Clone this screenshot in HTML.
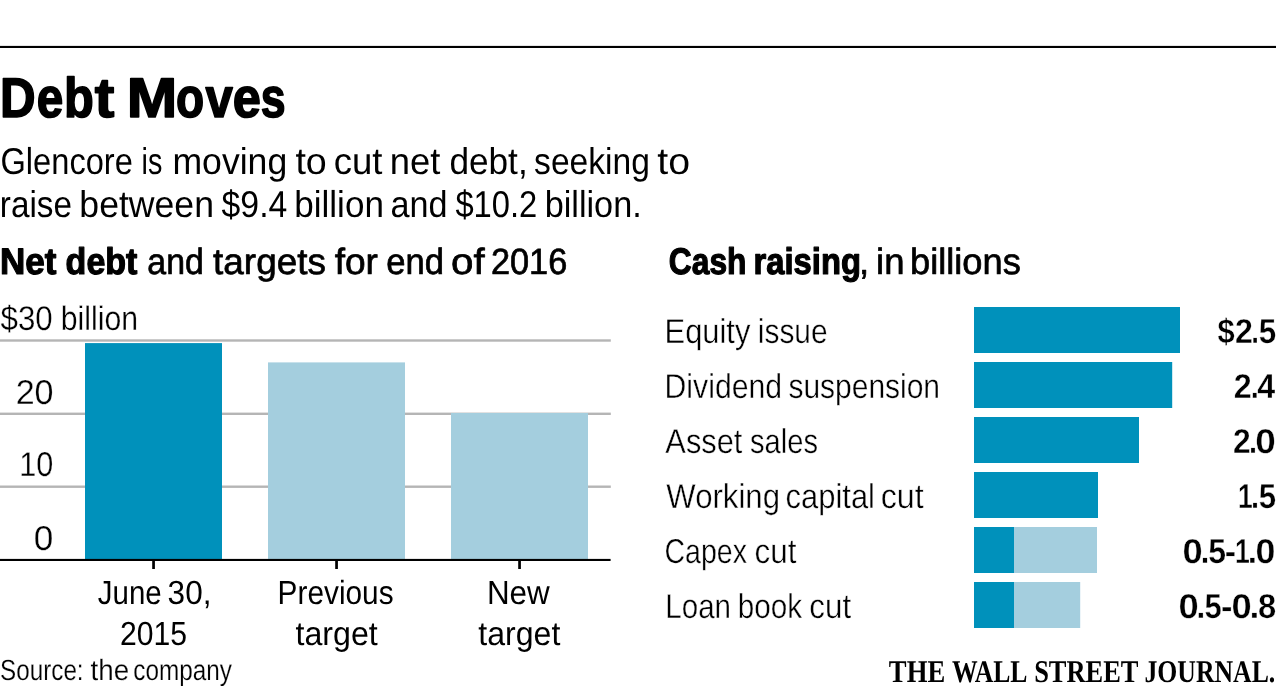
<!DOCTYPE html>
<html><head><meta charset="utf-8"><title>Debt Moves</title><style>
html,body{margin:0;padding:0;background:#fff;overflow:hidden;}
svg{display:block;will-change:transform;}
text{fill:#000;text-rendering:geometricPrecision;font-family:"Liberation Sans", sans-serif;font-weight:400;}
.b{font-weight:700;}
text[stroke-width]{stroke:#000;stroke-linejoin:round;}
text.w{stroke:#fff;}
.s{font-family:"Liberation Serif", serif;font-weight:700;}
</style></head><body>
<svg width="1280" height="692" viewBox="0 0 1280 692">
<rect width="1280" height="692" fill="#fff"/>
<rect x="0" y="45.9" width="1276" height="2.1" fill="#000"/>
<rect x="0" y="339.3" width="610.8" height="2.4" fill="#b5b5b5"/>
<rect x="0" y="412.6" width="610.8" height="2.4" fill="#b5b5b5"/>
<rect x="0" y="485.5" width="610.8" height="2.4" fill="#b5b5b5"/>
<rect x="85" y="343.1" width="137" height="216.4" fill="#0091bb"/>
<rect x="268" y="362.4" width="137" height="197.1" fill="#a4cede"/>
<rect x="451" y="413" width="137" height="146.5" fill="#a4cede"/>
<rect x="0" y="558.9" width="610.6" height="2.1" fill="#000"/>
<rect x="152.2" y="559" width="2.7" height="10" fill="#000"/>
<rect x="335.2" y="559" width="2.7" height="10" fill="#000"/>
<rect x="518.2" y="559" width="2.7" height="10" fill="#000"/>
<rect x="974" y="307" width="206" height="46" fill="#0091bb"/>
<rect x="974" y="362" width="198.2" height="46" fill="#0091bb"/>
<rect x="974" y="417" width="165" height="46" fill="#0091bb"/>
<rect x="974" y="472" width="124" height="46" fill="#0091bb"/>
<rect x="974" y="527" width="40" height="46" fill="#0091bb"/>
<rect x="1014" y="527" width="83" height="46" fill="#a4cede"/>
<rect x="974" y="582" width="40" height="46" fill="#0091bb"/>
<rect x="1014" y="582" width="66.2" height="46" fill="#a4cede"/>
<text class="b" stroke-width="1.6" x="-0.00" y="117.00" font-size="55.90" textLength="35.60" lengthAdjust="spacingAndGlyphs">D</text>
<text class="b" stroke-width="1.6" x="36.72" y="117.00" font-size="55.90" textLength="26.54" lengthAdjust="spacingAndGlyphs">e</text>
<text class="b" stroke-width="1.6" x="63.92" y="117.00" font-size="55.90" textLength="29.80" lengthAdjust="spacingAndGlyphs">b</text>
<text class="b" stroke-width="1.6" x="94.80" y="117.00" font-size="55.90" textLength="19.58" lengthAdjust="spacingAndGlyphs">t</text>
<text class="b" stroke-width="1.6" x="126.75" y="117.00" font-size="55.90" textLength="50.54" lengthAdjust="spacingAndGlyphs">M</text>
<text class="b" stroke-width="1.6" x="176.10" y="117.00" font-size="55.90" textLength="28.13" lengthAdjust="spacingAndGlyphs">o</text>
<text class="b" stroke-width="1.6" x="205.44" y="117.00" font-size="55.90" textLength="27.37" lengthAdjust="spacingAndGlyphs">v</text>
<text class="b" stroke-width="1.6" x="232.70" y="117.00" font-size="55.90" textLength="28.14" lengthAdjust="spacingAndGlyphs">e</text>
<text class="b" stroke-width="1.6" x="260.63" y="117.00" font-size="55.90" textLength="24.85" lengthAdjust="spacingAndGlyphs">s</text>
<text x="0.51" y="174.00" font-size="37.40" textLength="132.36" lengthAdjust="spacingAndGlyphs">Glencore</text>
<text x="141.58" y="174.00" font-size="37.40" textLength="20.78" lengthAdjust="spacingAndGlyphs">is</text>
<text x="172.48" y="174.00" font-size="37.40" textLength="114.72" lengthAdjust="spacingAndGlyphs">moving</text>
<text x="295.41" y="174.00" font-size="37.40" textLength="31.37" lengthAdjust="spacingAndGlyphs">to</text>
<text x="333.80" y="174.00" font-size="37.40" textLength="48.71" lengthAdjust="spacingAndGlyphs">cut</text>
<text x="389.67" y="174.00" font-size="37.40" textLength="50.63" lengthAdjust="spacingAndGlyphs">net</text>
<text x="449.42" y="174.00" font-size="37.40" textLength="78.26" lengthAdjust="spacingAndGlyphs">debt,</text>
<text x="534.08" y="174.00" font-size="37.40" textLength="115.82" lengthAdjust="spacingAndGlyphs">seeking</text>
<text x="657.24" y="174.00" font-size="37.40" textLength="32.73" lengthAdjust="spacingAndGlyphs">to</text>
<text x="-0.15" y="217.00" font-size="37.40" textLength="72.11" lengthAdjust="spacingAndGlyphs">raise</text>
<text x="79.34" y="217.00" font-size="37.40" textLength="134.63" lengthAdjust="spacingAndGlyphs">between</text>
<text x="221.62" y="217.00" font-size="37.40" textLength="65.66" lengthAdjust="spacingAndGlyphs">$9.4</text>
<text x="294.27" y="217.00" font-size="37.40" textLength="89.61" lengthAdjust="spacingAndGlyphs">billion</text>
<text x="390.60" y="217.00" font-size="37.40" textLength="57.05" lengthAdjust="spacingAndGlyphs">and</text>
<text x="455.40" y="217.00" font-size="37.40" textLength="81.92" lengthAdjust="spacingAndGlyphs">$10.2</text>
<text x="544.64" y="217.00" font-size="37.40" textLength="97.08" lengthAdjust="spacingAndGlyphs">billion.</text>
<text class="b" stroke-width="1.2" x="-0.09" y="274.00" font-size="37.10" textLength="56.41" lengthAdjust="spacingAndGlyphs">Net</text>
<text class="b" stroke-width="1.2" x="65.62" y="274.00" font-size="37.10" textLength="71.82" lengthAdjust="spacingAndGlyphs">debt</text>
<text stroke-width="0.7" x="147.32" y="274.00" font-size="36.50" textLength="56.52" lengthAdjust="spacingAndGlyphs">and</text>
<text stroke-width="0.7" x="213.11" y="274.00" font-size="36.50" textLength="112.74" lengthAdjust="spacingAndGlyphs">targets</text>
<text stroke-width="0.7" x="334.68" y="274.00" font-size="36.50" textLength="43.29" lengthAdjust="spacingAndGlyphs">for</text>
<text stroke-width="0.7" x="386.31" y="274.00" font-size="36.50" textLength="57.80" lengthAdjust="spacingAndGlyphs">end</text>
<text stroke-width="0.7" x="451.03" y="274.00" font-size="36.50" textLength="33.61" lengthAdjust="spacingAndGlyphs">of</text>
<text stroke-width="0.7" x="490.91" y="274.00" font-size="36.50" textLength="76.40" lengthAdjust="spacingAndGlyphs">2016</text>
<text class="b" stroke-width="1.2" x="668.85" y="274.00" font-size="37.10" textLength="77.59" lengthAdjust="spacingAndGlyphs">Cash</text>
<text class="b" stroke-width="1.2" x="753.59" y="274.00" font-size="37.10" textLength="107.32" lengthAdjust="spacingAndGlyphs">raising</text>
<text stroke-width="0.7" x="858.98" y="274.00" font-size="36.50">,</text>
<text stroke-width="0.7" x="876.14" y="274.00" font-size="36.50" textLength="28.46" lengthAdjust="spacingAndGlyphs">in</text>
<text stroke-width="0.7" x="909.99" y="274.00" font-size="36.50" textLength="110.77" lengthAdjust="spacingAndGlyphs">billions</text>
<text class="w" stroke-width="0.3" x="0.54" y="330.00" font-size="34.20" textLength="52.19" lengthAdjust="spacingAndGlyphs">$30</text>
<text class="w" stroke-width="0.3" x="60.75" y="330.00" font-size="34.20" textLength="77.27" lengthAdjust="spacingAndGlyphs">billion</text>
<text class="w" stroke-width="0.3" x="15.66" y="404.00" font-size="34.50" textLength="37.91" lengthAdjust="spacingAndGlyphs">20</text>
<text class="w" stroke-width="0.3" x="19.16" y="476.00" font-size="34.50" textLength="34.06" lengthAdjust="spacingAndGlyphs">10</text>
<text class="w" stroke-width="0.3" x="33.70" y="550.00" font-size="34.50" textLength="19.57" lengthAdjust="spacingAndGlyphs">0</text>
<text x="97.80" y="604.00" font-size="33.40" textLength="63.82" lengthAdjust="spacingAndGlyphs">June</text>
<text x="167.62" y="604.00" font-size="33.40" textLength="43.86" lengthAdjust="spacingAndGlyphs">30,</text>
<text x="119.91" y="645.00" font-size="33.40" textLength="67.03" lengthAdjust="spacingAndGlyphs">2015</text>
<text x="277.62" y="604.00" font-size="33.40" textLength="115.97" lengthAdjust="spacingAndGlyphs">Previous</text>
<text x="295.51" y="645.00" font-size="33.40" textLength="82.23" lengthAdjust="spacingAndGlyphs">target</text>
<text x="486.93" y="604.00" font-size="33.40" textLength="62.84" lengthAdjust="spacingAndGlyphs">New</text>
<text x="478.37" y="645.00" font-size="33.40" textLength="81.93" lengthAdjust="spacingAndGlyphs">target</text>
<text class="w" stroke-width="0.2" x="0.11" y="680.00" font-size="29.20" textLength="83.48" lengthAdjust="spacingAndGlyphs">Source:</text>
<text class="w" stroke-width="0.2" x="90.53" y="680.00" font-size="29.20" textLength="38.68" lengthAdjust="spacingAndGlyphs">the</text>
<text class="w" stroke-width="0.2" x="133.36" y="680.00" font-size="29.20" textLength="98.66" lengthAdjust="spacingAndGlyphs">company</text>
<text class="w" stroke-width="0.4" x="664.57" y="343.00" font-size="34.50" textLength="85.78" lengthAdjust="spacingAndGlyphs">Equity</text>
<text class="w" stroke-width="0.4" x="757.84" y="343.00" font-size="34.50" textLength="69.77" lengthAdjust="spacingAndGlyphs">issue</text>
<text class="w" stroke-width="0.4" x="664.55" y="398.00" font-size="34.50" textLength="117.60" lengthAdjust="spacingAndGlyphs">Dividend</text>
<text class="w" stroke-width="0.4" x="788.42" y="398.00" font-size="34.50" textLength="151.64" lengthAdjust="spacingAndGlyphs">suspension</text>
<text class="w" stroke-width="0.4" x="665.37" y="453.00" font-size="34.50" textLength="76.97" lengthAdjust="spacingAndGlyphs">Asset</text>
<text class="w" stroke-width="0.4" x="750.07" y="453.00" font-size="34.50" textLength="67.94" lengthAdjust="spacingAndGlyphs">sales</text>
<text class="w" stroke-width="0.4" x="666.33" y="508.00" font-size="34.50" textLength="113.63" lengthAdjust="spacingAndGlyphs">Working</text>
<text class="w" stroke-width="0.4" x="785.62" y="508.00" font-size="34.50" textLength="89.37" lengthAdjust="spacingAndGlyphs">capital</text>
<text class="w" stroke-width="0.4" x="880.68" y="508.00" font-size="34.50" textLength="42.91" lengthAdjust="spacingAndGlyphs">cut</text>
<text class="w" stroke-width="0.4" x="664.55" y="563.00" font-size="34.50" textLength="82.37" lengthAdjust="spacingAndGlyphs">Capex</text>
<text class="w" stroke-width="0.4" x="754.55" y="563.00" font-size="34.50" textLength="41.87" lengthAdjust="spacingAndGlyphs">cut</text>
<text class="w" stroke-width="0.4" x="665.37" y="618.00" font-size="34.50" textLength="65.63" lengthAdjust="spacingAndGlyphs">Loan</text>
<text class="w" stroke-width="0.4" x="737.80" y="618.00" font-size="34.50" textLength="64.31" lengthAdjust="spacingAndGlyphs">book</text>
<text class="w" stroke-width="0.4" x="809.36" y="618.00" font-size="34.50" textLength="41.77" lengthAdjust="spacingAndGlyphs">cut</text>
<text class="b w" stroke-width="0.35" x="1217.51" y="343.00" font-size="34.40" textLength="17.19" lengthAdjust="spacingAndGlyphs">$</text>
<text class="b w" stroke-width="0.35" x="1234.96" y="343.00" font-size="34.40" textLength="17.88" lengthAdjust="spacingAndGlyphs">2</text>
<text class="b w" stroke-width="0.35" x="1251.32" y="343.00" font-size="34.40" textLength="7.66" lengthAdjust="spacingAndGlyphs">.</text>
<text class="b w" stroke-width="0.35" x="1258.73" y="343.00" font-size="34.40" textLength="17.48" lengthAdjust="spacingAndGlyphs">5</text>
<text class="b w" stroke-width="0.35" x="1233.76" y="398.00" font-size="34.40" textLength="17.96" lengthAdjust="spacingAndGlyphs">2</text>
<text class="b w" stroke-width="0.35" x="1250.68" y="398.00" font-size="34.40" textLength="8.12" lengthAdjust="spacingAndGlyphs">.</text>
<text class="b w" stroke-width="0.35" x="1257.37" y="398.00" font-size="34.40" textLength="17.93" lengthAdjust="spacingAndGlyphs">4</text>
<text class="b w" stroke-width="0.35" x="1232.88" y="453.00" font-size="34.40" textLength="17.70" lengthAdjust="spacingAndGlyphs">2</text>
<text class="b w" stroke-width="0.35" x="1248.97" y="453.00" font-size="34.40" textLength="8.04" lengthAdjust="spacingAndGlyphs">.</text>
<text class="b w" stroke-width="0.35" x="1255.34" y="453.00" font-size="34.40" textLength="20.54" lengthAdjust="spacingAndGlyphs">0</text>
<text class="b w" stroke-width="0.35" x="1238.12" y="508.00" font-size="34.40" textLength="14.69" lengthAdjust="spacingAndGlyphs">1</text>
<text class="b w" stroke-width="0.35" x="1250.98" y="508.00" font-size="34.40" textLength="8.07" lengthAdjust="spacingAndGlyphs">.</text>
<text class="b w" stroke-width="0.35" x="1258.65" y="508.00" font-size="34.40" textLength="17.32" lengthAdjust="spacingAndGlyphs">5</text>
<text class="b w" stroke-width="0.35" x="1182.56" y="563.00" font-size="34.40" textLength="20.16" lengthAdjust="spacingAndGlyphs">0</text>
<text class="b w" stroke-width="0.35" x="1200.67" y="563.00" font-size="34.40" textLength="8.53" lengthAdjust="spacingAndGlyphs">.</text>
<text class="b w" stroke-width="0.35" x="1208.32" y="563.00" font-size="34.40" textLength="17.81" lengthAdjust="spacingAndGlyphs">5</text>
<text class="b w" stroke-width="0.35" x="1224.85" y="563.00" font-size="34.40" textLength="11.35" lengthAdjust="spacingAndGlyphs">-</text>
<text class="b w" stroke-width="0.35" x="1235.08" y="563.00" font-size="34.40" textLength="14.79" lengthAdjust="spacingAndGlyphs">1</text>
<text class="b w" stroke-width="0.35" x="1247.86" y="563.00" font-size="34.40" textLength="9.32" lengthAdjust="spacingAndGlyphs">.</text>
<text class="b w" stroke-width="0.35" x="1255.50" y="563.00" font-size="34.40" textLength="19.91" lengthAdjust="spacingAndGlyphs">0</text>
<text class="b w" stroke-width="0.35" x="1178.43" y="618.00" font-size="34.40" textLength="20.20" lengthAdjust="spacingAndGlyphs">0</text>
<text class="b w" stroke-width="0.35" x="1196.50" y="618.00" font-size="34.40" textLength="8.75" lengthAdjust="spacingAndGlyphs">.</text>
<text class="b w" stroke-width="0.35" x="1204.42" y="618.00" font-size="34.40" textLength="17.25" lengthAdjust="spacingAndGlyphs">5</text>
<text class="b w" stroke-width="0.35" x="1220.98" y="618.00" font-size="34.40" textLength="11.43" lengthAdjust="spacingAndGlyphs">-</text>
<text class="b w" stroke-width="0.35" x="1231.52" y="618.00" font-size="34.40" textLength="20.19" lengthAdjust="spacingAndGlyphs">0</text>
<text class="b w" stroke-width="0.35" x="1249.45" y="618.00" font-size="34.40" textLength="9.89" lengthAdjust="spacingAndGlyphs">.</text>
<text class="b w" stroke-width="0.35" x="1258.07" y="618.00" font-size="34.40" textLength="18.23" lengthAdjust="spacingAndGlyphs">8</text>
<text class="b s" x="888.87" y="682.00" font-size="31.60" textLength="56.31" lengthAdjust="spacingAndGlyphs">THE</text>
<text class="b s" x="951.92" y="682.00" font-size="31.60" textLength="75.57" lengthAdjust="spacingAndGlyphs">WALL</text>
<text class="b s" x="1034.14" y="682.00" font-size="31.60" textLength="104.36" lengthAdjust="spacingAndGlyphs">STREET</text>
<text class="b s" x="1144.49" y="682.00" font-size="31.60" textLength="130.76" lengthAdjust="spacingAndGlyphs">JOURNAL.</text>
</svg>
</body></html>
